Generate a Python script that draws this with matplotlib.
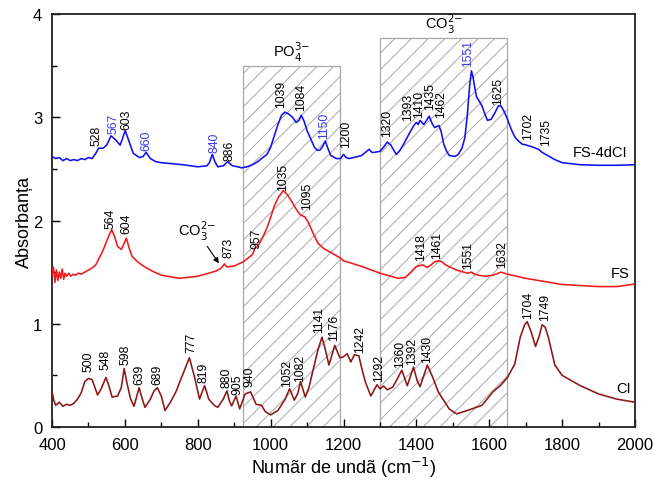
import matplotlib
matplotlib.use("Agg")
import matplotlib.pyplot as plt
from matplotlib.patches import Rectangle
from matplotlib.ticker import MultipleLocator

plt.rcParams['font.family'] = ['Liberation Sans', 'DejaVu Sans']
plt.rcParams['hatch.linewidth'] = 0.7

# ---- FS-4dCl (blue) ----
fs4_x = [400, 410, 420, 430, 440, 450, 460, 470, 480, 490, 500, 510, 520, 528, 540, 550, 562, 575, 587, 601,
         612, 623, 640, 650, 658, 670, 685, 700, 730, 760, 800, 825, 832, 840, 847, 855, 870, 882, 895, 910,
         920, 935, 950, 965, 975, 990, 1000, 1010, 1020, 1030, 1039, 1050, 1060, 1070, 1078, 1084, 1092,
         1100, 1110, 1120, 1128, 1135, 1143, 1150, 1157, 1165, 1180, 1192, 1200, 1207, 1215, 1228, 1240,
         1250, 1260, 1270, 1278, 1285, 1300, 1312, 1320, 1330, 1338, 1345, 1355, 1365, 1380, 1393, 1400,
         1405, 1410, 1420, 1428, 1435, 1443, 1450, 1462, 1468, 1475, 1483, 1490, 1505, 1515, 1525, 1533,
         1540, 1546, 1551, 1556, 1560, 1565, 1570, 1580, 1588, 1595, 1605, 1615, 1625, 1632, 1640, 1648,
         1655, 1662, 1670, 1680, 1690, 1702, 1712, 1720, 1735, 1745, 1760, 1780, 1800, 1825, 1850, 1900,
         1950, 2000]
fs4_y = [2.62, 2.60, 2.61, 2.58, 2.60, 2.58, 2.59, 2.58, 2.60, 2.59, 2.61, 2.60, 2.65, 2.70, 2.70, 2.73,
         2.82, 2.78, 2.73, 2.87, 2.76, 2.65, 2.61, 2.62, 2.66, 2.60, 2.57, 2.56, 2.55, 2.54, 2.52, 2.53,
         2.56, 2.64, 2.57, 2.52, 2.53, 2.57, 2.53, 2.52, 2.51, 2.52, 2.54, 2.57, 2.60, 2.64, 2.71, 2.82,
         2.93, 3.02, 3.05, 3.03, 3.00, 2.95, 2.97, 3.02, 2.96, 2.87, 2.79, 2.71, 2.68, 2.68, 2.72, 2.77,
         2.70, 2.63, 2.60, 2.60, 2.64, 2.61, 2.60, 2.61, 2.62, 2.63, 2.66, 2.69, 2.66, 2.66, 2.67, 2.72,
         2.76, 2.73, 2.68, 2.64, 2.68, 2.74, 2.84, 2.92, 2.95, 2.93, 2.97, 2.93, 2.97, 3.01, 2.94, 2.90,
         2.92, 2.86, 2.74, 2.67, 2.63, 2.62, 2.64, 2.70, 2.80, 3.03, 3.30, 3.45, 3.38, 3.29, 3.20, 3.17,
         3.11, 3.03, 2.97, 2.98, 3.04, 3.11, 3.11, 3.06, 3.00, 2.93, 2.87, 2.81, 2.77, 2.74, 2.73, 2.72,
         2.71, 2.69, 2.66, 2.63, 2.59, 2.56, 2.55, 2.54, 2.535, 2.535, 2.54]

# ---- FS (red) ----
fs_x = [400, 404, 408, 412, 416, 420, 424, 428, 432, 436, 440, 446, 452, 458, 465, 472, 480, 490, 500,
        510, 520, 530, 540, 550, 557, 564, 572, 580, 590, 597, 604, 612, 620, 635, 650, 675, 700, 750,
        800, 850, 865, 873, 880, 900, 925, 950, 957, 965, 980, 990, 1000, 1010, 1022, 1035, 1048, 1060,
        1070, 1080, 1095, 1102, 1110, 1120, 1130, 1145, 1160, 1190, 1200, 1250, 1300, 1350, 1370, 1385,
        1400, 1418, 1430, 1440, 1450, 1461, 1470, 1480, 1510, 1540, 1551, 1560, 1570, 1590, 1610, 1632,
        1650, 1700, 1750, 1800, 1850, 1900, 1950, 2000]
fs_y = [1.47, 1.55, 1.40, 1.52, 1.42, 1.50, 1.44, 1.53, 1.43, 1.49, 1.46, 1.49, 1.46, 1.48, 1.47, 1.49,
        1.48, 1.50, 1.52, 1.54, 1.57, 1.64, 1.71, 1.80, 1.86, 1.91, 1.84, 1.75, 1.72, 1.77, 1.83, 1.73,
        1.65, 1.60, 1.56, 1.51, 1.47, 1.44, 1.46, 1.51, 1.54, 1.58, 1.55, 1.56, 1.60, 1.67, 1.73, 1.75,
        1.85, 1.93, 2.03, 2.14, 2.23, 2.29, 2.24, 2.17, 2.11, 2.06, 2.03, 1.99, 1.93, 1.85, 1.78, 1.73,
        1.70, 1.64, 1.61, 1.555, 1.49, 1.44, 1.45, 1.50, 1.555, 1.57, 1.545, 1.57, 1.60, 1.61, 1.60,
        1.57, 1.52, 1.49, 1.50, 1.48, 1.47, 1.46, 1.47, 1.50, 1.48, 1.44, 1.41, 1.38, 1.37, 1.36, 1.36,
        1.385]

# ---- CI (dark red) ----
ci_x = [400, 405, 410, 420, 430, 440, 450, 460, 470, 480, 490, 500, 510, 518, 525, 535, 548, 556, 565,
        580, 590, 598, 606, 615, 625, 639, 647, 655, 670, 680, 689, 700, 710, 725, 740, 760, 777, 790,
        805, 812, 819, 830, 845, 855, 870, 880, 887, 893, 905, 915, 930, 945, 960, 975, 985, 1000, 1020,
        1040, 1052, 1065, 1075, 1082, 1095, 1105, 1115, 1130, 1141, 1150, 1160, 1176, 1190, 1200, 1210,
        1220, 1230, 1242, 1250, 1260, 1275, 1292, 1300, 1310, 1320, 1335, 1345, 1360, 1375, 1392, 1402,
        1410, 1430, 1445, 1460, 1490, 1510, 1540, 1580, 1610, 1630, 1650, 1670, 1685, 1697, 1704, 1715,
        1727, 1737, 1745, 1753, 1762, 1780, 1800, 1850, 1900, 1950, 2000]
ci_y = [0.34, 0.26, 0.21, 0.24, 0.20, 0.22, 0.21, 0.23, 0.27, 0.33, 0.44, 0.47, 0.46, 0.38, 0.31, 0.37,
        0.48, 0.40, 0.29, 0.30, 0.38, 0.565, 0.42, 0.28, 0.20, 0.38, 0.28, 0.19, 0.27, 0.35, 0.38, 0.30,
        0.16, 0.24, 0.34, 0.52, 0.67, 0.50, 0.27, 0.34, 0.40, 0.27, 0.21, 0.19, 0.27, 0.35, 0.25, 0.205,
        0.30, 0.175, 0.32, 0.34, 0.22, 0.21, 0.15, 0.117, 0.16, 0.27, 0.37, 0.26, 0.33, 0.44, 0.29, 0.38,
        0.53, 0.75, 0.87, 0.75, 0.60, 0.79, 0.67, 0.68, 0.71, 0.63, 0.70, 0.69, 0.57, 0.435, 0.30, 0.41,
        0.37, 0.397, 0.36, 0.386, 0.45, 0.55, 0.40, 0.58, 0.45, 0.39, 0.60, 0.48, 0.34, 0.175, 0.127,
        0.16, 0.21, 0.34, 0.40, 0.48, 0.61, 0.87, 0.99, 1.02, 0.92, 0.78, 0.88, 0.99, 0.97, 0.87, 0.60,
        0.50, 0.40, 0.32, 0.27, 0.24]

# ---- peak labels: (text, x, y_bottom, is_blue) ----
fs4_labels = [("528", 521, 2.73, False), ("567", 568, 2.85, True), ("603", 603, 2.89, False),
              ("660", 658, 2.68, True), ("840", 845, 2.66, True), ("886", 886, 2.59, False),
              ("1039", 1030, 3.10, False), ("1084", 1085, 3.07, False), ("1150", 1146, 2.80, True),
              ("1200", 1206, 2.71, False), ("1320", 1321, 2.82, False), ("1393", 1376, 2.97, False),
              ("1410", 1408, 3.00, False), ("1435", 1437, 3.08, False), ("1462", 1467, 3.00, False),
              ("1551", 1543, 3.50, True), ("1625", 1625, 3.13, False), ("1702", 1707, 2.79, False),
              ("1735", 1757, 2.73, False)]
fs_labels = [("564", 561, 1.93), ("604", 603, 1.88), ("873", 884, 1.65), ("957", 962, 1.73),
             ("1035", 1035, 2.30), ("1095", 1099, 2.11), ("1418", 1414, 1.62), ("1461", 1456, 1.64),
             ("1551", 1543, 1.54), ("1632", 1636, 1.55)]
ci_labels = [("500", 500, 0.54), ("548", 548, 0.565), ("598", 603, 0.61), ("639", 640, 0.42),
             ("689", 689, 0.42), ("777", 783, 0.73), ("819", 817, 0.435), ("880", 879, 0.39),
             ("905", 908, 0.32), ("940", 941, 0.40), ("1052", 1046, 0.40), ("1082", 1082, 0.45),
             ("1141", 1133, 0.92), ("1176", 1174, 0.84), ("1242", 1245, 0.73), ("1292", 1298, 0.45),
             ("1360", 1355, 0.58), ("1392", 1387, 0.61), ("1430", 1430, 0.63), ("1704", 1707, 1.06),
             ("1749", 1753, 1.035)]

fig = plt.figure(figsize=(6.55, 4.81), dpi=100)
ax = fig.add_axes([0.0794, 0.1102, 0.8901, 0.8586])

# hatched regions
ax.add_patch(Rectangle((925, 0), 265, 3.5, facecolor='none', edgecolor='#a8a8a8',
                       hatch='//', linewidth=0.9, zorder=1))
ax.add_patch(Rectangle((1300, 0), 350, 3.77, facecolor='none', edgecolor='#a8a8a8',
                       hatch='//', linewidth=0.9, zorder=1))
ax.text(1057, 3.53, r'PO$_4^{3\mathrm{-}}$', ha='center', va='bottom', fontsize=10.5)
ax.text(1475, 3.80, r'CO$_3^{2\mathrm{-}}$', ha='center', va='bottom', fontsize=10.5)

blue = '#1010f5'
red = '#f01a1a'
dred = '#8e1515'
ax.plot(fs4_x, fs4_y, color=blue, lw=1.15, zorder=3)
ax.plot(fs_x, fs_y, color=red, lw=1.15, zorder=3)
ax.plot(ci_x, ci_y, color=dred, lw=1.15, zorder=3)

fs_lab = 8.8
for t, x, y, b in fs4_labels:
    ax.text(x, y, t, rotation=90, ha='center', va='bottom', fontsize=fs_lab,
            color='#3a3af0' if b else 'black', zorder=4)
for t, x, y in fs_labels:
    ax.text(x, y, t, rotation=90, ha='center', va='bottom', fontsize=fs_lab, zorder=4)
for t, x, y in ci_labels:
    ax.text(x, y, t, rotation=90, ha='center', va='bottom', fontsize=fs_lab, zorder=4)

ax.annotate(r'CO$_3^{2\mathrm{-}}$', xy=(858, 1.585), xytext=(797, 1.90), ha='center', va='center',
            fontsize=10.5, arrowprops=dict(arrowstyle='-|>', color='black', lw=0.8,
                                           mutation_scale=8, shrinkA=1, shrinkB=0))

ax.text(1904, 2.66, 'FS-4dCI', ha='center', va='center', fontsize=10.5)
ax.text(1960, 1.49, 'FS', ha='center', va='center', fontsize=10.5)
ax.text(1968, 0.38, 'CI', ha='center', va='center', fontsize=10.5)

ax.set_xlim(400, 2000)
ax.set_ylim(0, 4)
ax.xaxis.set_major_locator(MultipleLocator(200))
ax.xaxis.set_minor_locator(MultipleLocator(100))
ax.yaxis.set_major_locator(MultipleLocator(1))
ax.yaxis.set_minor_locator(MultipleLocator(0.5))
ax.tick_params(which='both', direction='in', top=False, right=False, labelsize=12, width=1.0)
ax.tick_params(which='major', length=6)
ax.tick_params(axis='x', which='major', pad=7)
ax.tick_params(axis='y', which='major', pad=7)
ax.tick_params(which='minor', length=3.5)
for s in ax.spines.values():
    s.set_linewidth(1.3)
    s.set_color('#222222')

ax.set_xlabel('Numãr de undã (cm$^{-1}$)', fontsize=13, labelpad=2)
ax.set_ylabel('Absorbanța', fontsize=13, labelpad=0)

fig.savefig('out.png', dpi=100)
